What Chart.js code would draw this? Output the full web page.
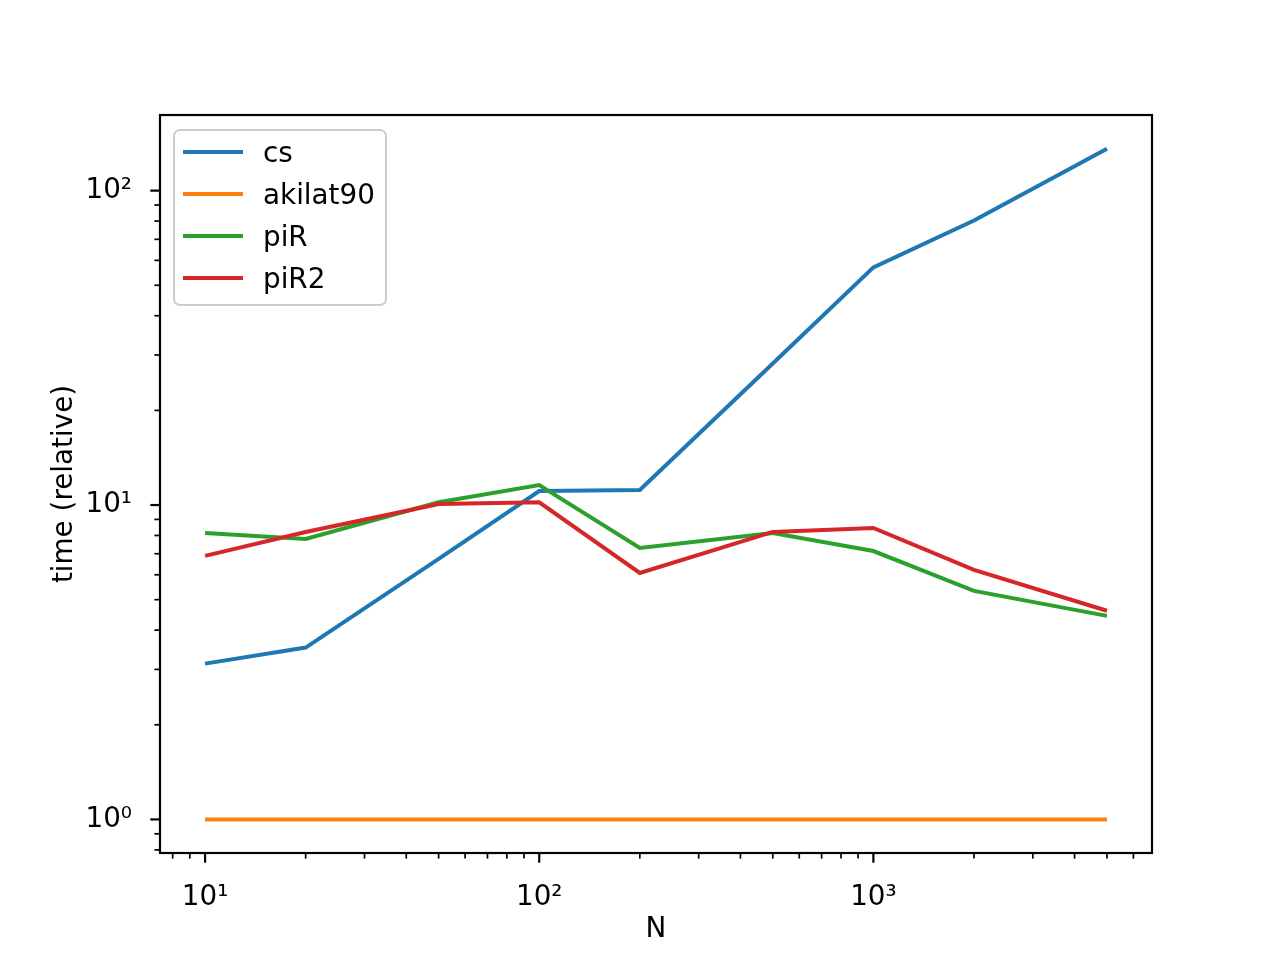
<!DOCTYPE html>
<html><head><meta charset="utf-8">
<script src="https://cdn.jsdelivr.net/npm/chart.js@4.4.1/dist/chart.umd.min.js"></script>
<style>html,body{margin:0;padding:0;background:#fff}canvas{display:block}</style>
</head><body>
<canvas id="c" width="1280" height="960"></canvas>
<script>
const N = [10, 20, 50, 100, 200, 500, 1000, 2000, 5000];
const cs = [3.13, 3.52, 6.74, 11.08, 11.16, 28.2, 57.0, 80.3, 136];
const akilat90 = [1, 1, 1, 1, 1, 1, 1, 1, 1];
const piR = [8.15, 7.80, 10.2, 11.57, 7.30, 8.15, 7.14, 5.33, 4.44];
const piR2 = [6.89, 8.21, 10.07, 10.2, 6.08, 8.21, 8.45, 6.22, 4.61];
const seriesNames = ['cs', 'akilat90', 'piR', 'piR2'];
const seriesValues = [cs, akilat90, piR, piR2];
const colors = ['#1f77b4', '#ff7f0e', '#2ca02c', '#d62728'];

const xMajorTicks = [10, 100, 1000];
const xTickLabels = ['10\u00B9', '10\u00B2', '10\u00B3'];
const xMinorTicks = [8, 9, 20, 30, 40, 50, 60, 70, 80, 90, 200, 300, 400, 500, 600, 700, 800, 900, 2000, 3000, 4000, 5000, 6000];
const yMajorTicks = [1, 10, 100];
const yTickLabels = ['10\u2070', '10\u00B9', '10\u00B2'];
const yMinorTicks = [0.8, 0.9, 2, 3, 4, 5, 6, 7, 8, 9, 20, 30, 40, 50, 60, 70, 80, 90];
const xLimits = [7.33, 6820];
const yLimits = [0.782, 174];

const FONT = {family: 'DejaVu Sans', size: 27.8};

const axesPlugin = {
  id: 'axesPlugin',
  afterDraw(chart) {
    const ctx = chart.ctx, a = chart.chartArea, xs = chart.scales.x, ys = chart.scales.y;
    ctx.save();
    ctx.strokeStyle = '#000';
    const drawX = (vals, len, w) => {
      ctx.lineWidth = w;
      vals.forEach(v => {
        const px = xs.getPixelForValue(v);
        ctx.beginPath(); ctx.moveTo(px, a.bottom); ctx.lineTo(px, a.bottom + len); ctx.stroke();
      });
    };
    const drawY = (vals, len, w) => {
      ctx.lineWidth = w;
      vals.forEach(v => {
        const py = ys.getPixelForValue(v);
        ctx.beginPath(); ctx.moveTo(a.left, py); ctx.lineTo(a.left - len, py); ctx.stroke();
      });
    };
    drawX(xMinorTicks, 5.6, 1.7);
    drawX(xMajorTicks, 9.7, 2.2);
    drawY(yMinorTicks, 5.6, 1.7);
    drawY(yMajorTicks, 9.7, 2.2);
    ctx.lineWidth = 2.2;
    ctx.strokeRect(a.left, a.top, a.right - a.left, a.bottom - a.top);

    // legend
    const lx = a.left + 14, ly = a.top + 15, lw = 212, lh = 175;
    ctx.beginPath();
    ctx.roundRect(lx, ly, lw, lh, 6);
    ctx.fillStyle = 'rgba(255,255,255,0.8)';
    ctx.fill();
    ctx.strokeStyle = '#cccccc';
    ctx.lineWidth = 2;
    ctx.stroke();
    ctx.font = FONT.size + 'px "DejaVu Sans"';
    ctx.textBaseline = 'alphabetic';
    ctx.textAlign = 'left';
    chart.data.datasets.forEach((ds, i) => {
      const cy = ly + 22 + i * 42;
      ctx.strokeStyle = ds.borderColor;
      ctx.lineWidth = 4;
      ctx.beginPath(); ctx.moveTo(lx + 9, cy); ctx.lineTo(lx + 69, cy); ctx.stroke();
      ctx.fillStyle = '#000';
      ctx.fillText(ds.label, lx + 89, cy + 10);
    });
    ctx.restore();
  }
};

new Chart(document.getElementById('c'), {
  type: 'line',
  data: {
    datasets: seriesNames.map((name, i) => ({
      label: name,
      data: N.map((n, j) => ({x: n, y: seriesValues[i][j]})),
      borderColor: colors[i],
      backgroundColor: colors[i],
      borderWidth: 4,
      pointRadius: 0,
      tension: 0,
      fill: false,
      order: seriesNames.length - i
    }))
  },
  options: {
    responsive: false,
    animation: false,
    devicePixelRatio: 1,
    layout: {padding: {left: 48, top: 115, right: 128, bottom: 14}},
    plugins: {legend: {display: false}, tooltip: {enabled: false}, title: {display: false}},
    scales: {
      x: {
        type: 'logarithmic', position: 'bottom',
        min: xLimits[0], max: xLimits[1],
        afterBuildTicks: s => { s.ticks = xMajorTicks.map(v => ({value: v})); },
        afterFit: s => { s.height = 93; },
        grid: {display: false}, border: {display: false},
        ticks: {
          autoSkip: false, maxRotation: 0, minRotation: 0, padding: 20, color: '#000', font: FONT,
          callback: v => { const k = xMajorTicks.indexOf(v); return k >= 0 ? xTickLabels[k] : ''; }
        },
        title: {display: true, text: 'N', color: '#000', font: FONT, padding: 0}
      },
      y: {
        type: 'logarithmic', position: 'left',
        min: yLimits[0], max: yLimits[1],
        afterBuildTicks: s => { s.ticks = yMajorTicks.map(v => ({value: v})); },
        afterFit: s => { s.width = 112; },
        grid: {display: false}, border: {display: false},
        ticks: {
          autoSkip: false, padding: 20, color: '#000', font: FONT,
          callback: v => { const k = yMajorTicks.indexOf(v); return k >= 0 ? yTickLabels[k] : ''; }
        },
        title: {display: true, text: 'time (relative)', color: '#000', font: FONT, padding: 0}
      }
    }
  },
  plugins: [axesPlugin]
});
</script>
</body></html>
